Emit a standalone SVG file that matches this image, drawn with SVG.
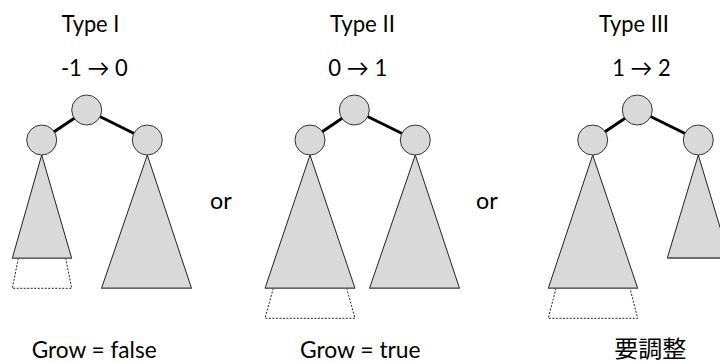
<svg xmlns="http://www.w3.org/2000/svg" width="720" height="363" viewBox="0 0 720 363">
<style>
.t{font-family:Lato,"Open Sans","Noto Sans CJK JP",sans-serif;font-size:23px;fill:#000;text-anchor:middle}
.j{font-family:"Noto Sans CJK JP",sans-serif;font-size:23px;fill:#000;text-anchor:middle}
.edge{stroke:#000;stroke-width:3}
.node{fill:#d9d9d9;stroke:#333;stroke-width:1}
.tri{fill:#d9d9d9;stroke:#222;stroke-width:1}
.base{stroke:#666;stroke-width:1.5}
.dot{fill:none;stroke:#222;stroke-width:1;stroke-dasharray:2 1.5}
</style>
<rect width="720" height="363" fill="#fff"/>
<g id="connectors">
<line class="edge" x1="86.7" y1="110" x2="41.7" y2="140"/>
<line class="edge" x1="86.7" y1="110" x2="147.3" y2="140"/>
<line class="edge" x1="354.3" y1="110" x2="310" y2="140"/>
<line class="edge" x1="354.3" y1="110" x2="415.3" y2="140"/>
<line class="edge" x1="637.3" y1="110" x2="592.7" y2="140"/>
<line class="edge" x1="637.3" y1="110" x2="698.3" y2="140"/>
</g>
<g id="type1">
<text class="t" x="90.5" y="32.3" textLength="57.7" lengthAdjust="spacingAndGlyphs">Type I</text>
<text class="t" x="94.3" y="76" textLength="66.7" lengthAdjust="spacingAndGlyphs">-1 → 0</text>
<polyline class="dot" points="18.3,258.3 12.3,288.3 71.7,288.3 65.7,258.3"/>
<polygon class="tri" points="41.7,155 12.3,258.3 71.7,258.3"/>
<line class="base" x1="12.3" y1="258.3" x2="71.7" y2="258.3"/>
<polygon class="tri" points="147.3,155 101.5,288.3 191.5,288.3"/>
<line class="base" x1="101.5" y1="288.3" x2="191.5" y2="288.3"/>
<circle class="node" cx="86.7" cy="110" r="15"/>
<circle class="node" cx="41.7" cy="140" r="15"/>
<circle class="node" cx="147.3" cy="140" r="15"/>
<text class="t" x="94.2" y="358" textLength="125" lengthAdjust="spacingAndGlyphs">Grow = false</text>
</g>
<g id="or1">
<text class="t" x="220.8" y="209.3" textLength="21.7" lengthAdjust="spacingAndGlyphs">or</text>
</g>
<g id="type2">
<text class="t" x="362.5" y="32.3" textLength="65" lengthAdjust="spacingAndGlyphs">Type II</text>
<text class="t" x="357.8" y="76" textLength="59" lengthAdjust="spacingAndGlyphs">0 → 1</text>
<polyline class="dot" points="273.3,288.3 265,318.3 355,318.3 346.7,288.3"/>
<polygon class="tri" points="310,155 265,288.3 355,288.3"/>
<line class="base" x1="265" y1="288.3" x2="355" y2="288.3"/>
<polygon class="tri" points="415.3,155 369.5,288.3 459.5,288.3"/>
<line class="base" x1="369.5" y1="288.3" x2="459.5" y2="288.3"/>
<circle class="node" cx="354.3" cy="110" r="15"/>
<circle class="node" cx="310" cy="140" r="15"/>
<circle class="node" cx="415.3" cy="140" r="15"/>
<text class="t" x="360.3" y="358" textLength="120.7" lengthAdjust="spacingAndGlyphs">Grow = true</text>
</g>
<g id="or2">
<text class="t" x="486.8" y="209.3" textLength="21.7" lengthAdjust="spacingAndGlyphs">or</text>
</g>
<g id="type3">
<text class="t" x="634" y="32.3" textLength="70" lengthAdjust="spacingAndGlyphs">Type III</text>
<text class="t" x="641.5" y="76" textLength="58.3" lengthAdjust="spacingAndGlyphs">1 → 2</text>
<polyline class="dot" points="556,288.3 548.3,318.3 637.7,318.3 630,288.3"/>
<polygon class="tri" points="592.7,155 548.3,288.3 637.7,288.3"/>
<line class="base" x1="548.3" y1="288.3" x2="637.7" y2="288.3"/>
<polygon class="tri" points="698.3,155 667.3,258 729.3,258"/>
<line class="base" x1="667.3" y1="258" x2="729.3" y2="258"/>
<circle class="node" cx="637.3" cy="110" r="15"/>
<circle class="node" cx="592.7" cy="140" r="15"/>
<circle class="node" cx="698.3" cy="140" r="15"/>
<text class="j" x="650.3" y="357" textLength="72" lengthAdjust="spacingAndGlyphs">要調整</text>
</g>
</svg>
